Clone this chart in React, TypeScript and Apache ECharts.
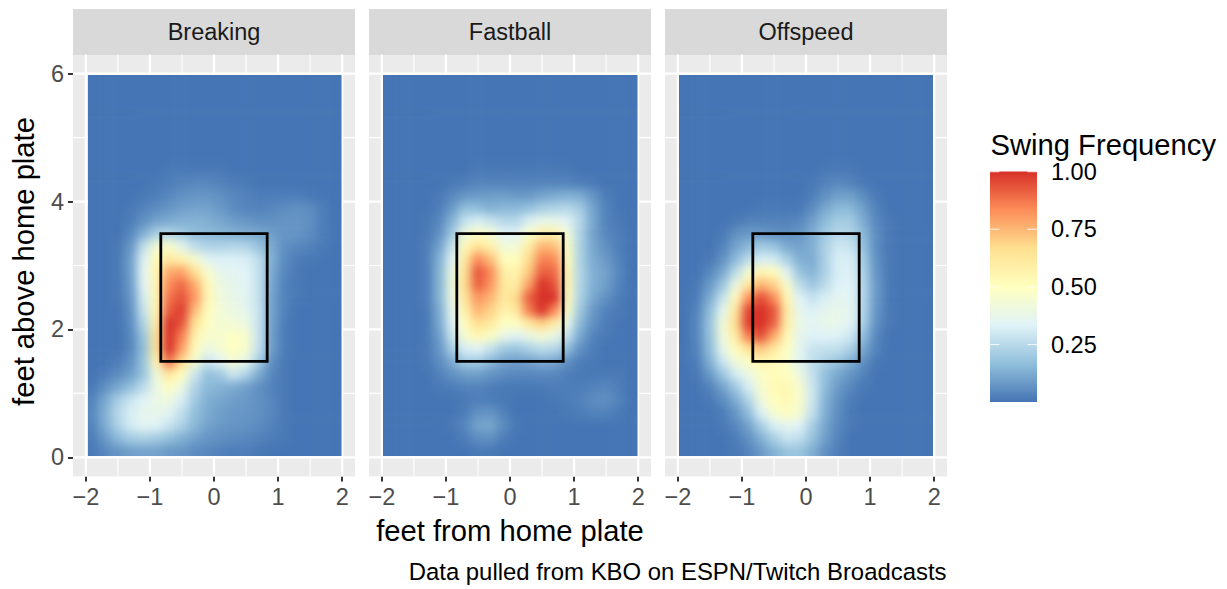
import React, { useEffect, useRef } from "react";
import * as echarts from "echarts";

const FONT = "'Liberation Sans', Arial, sans-serif";
const W = 1227;
const H = 589;

const panelNames = ["Breaking", "Fastball", "Offspeed"];
const palette = ["#4575B4", "#91BFDB", "#E0F3F8", "#FFFFBF", "#FEE090", "#FC8D59", "#D73027"];
const legendTicks = [1.0, 0.75, 0.5, 0.25];

const xCenters = [-1.9, -1.7, -1.5, -1.3, -1.1, -0.9, -0.7, -0.5, -0.3, -0.1, 0.1, 0.3, 0.5, 0.7, 0.9, 1.1, 1.3, 1.5, 1.7, 1.9];
const yCenters = [5.9, 5.7, 5.5, 5.3, 5.1, 4.9, 4.7, 4.5, 4.3, 4.1, 3.9, 3.7, 3.5, 3.3, 3.1, 2.9, 2.7, 2.5, 2.3, 2.1, 1.9, 1.7, 1.5, 1.3, 1.1, 0.9, 0.7, 0.5, 0.3, 0.1];

const xMajor = [-2, -1, 0, 1, 2];
const xMinor = [-1.5, -0.5, 0.5, 1.5];
const yMajor = [0, 2, 4, 6];
const yMinor = [1, 3, 5];

const zoneX = [-0.83, 0.83, 0.83, -0.83, -0.83];
const zoneY = [1.5, 1.5, 3.5, 3.5, 1.5];

// swing frequency in percent, rows from y = 5.9 down to y = 0.1
const breakingRows = [
  [2,2,2,2,2,2,2,2,2,2,2,2,2,2,2,2,2,2,2,2],
  [2,2,2,2,2,2,2,2,2,2,2,2,2,2,2,2,2,2,2,2],
  [2,2,2,2,2,2,2,2,2,2,2,2,2,2,2,2,2,2,2,2],
  [2,2,2,2,2,2,2,2,2,2,2,2,2,2,2,2,2,2,2,2],
  [2,2,2,2,2,2,2,2,2,2,2,2,2,2,2,2,2,2,2,2],
  [2,2,2,2,2,2,2,2,2,2,2,2,2,2,2,2,2,2,2,2],
  [2,2,2,2,2,2,2,2,2,2,2,2,2,2,2,2,2,2,2,2],
  [2,2,2,2,2,2,3,3,3,3,3,2,2,2,2,2,2,2,2,2],
  [2,2,2,2,2,3,4,5,6,6,5,4,3,2,2,2,2,2,2,2],
  [2,2,2,2,3,4,6,8,9,9,8,6,5,4,4,4,4,3,2,2],
  [2,2,2,3,5,7,9,11,12,12,10,7,5,5,6,7,8,7,4,2],
  [2,2,2,4,8,12,14,15,16,15,13,11,9,8,8,9,9,8,4,2],
  [2,2,2,6,15,24,26,22,18,17,16,15,14,13,11,9,9,7,4,2],
  [2,2,3,9,28,45,48,38,28,25,25,26,25,20,14,8,6,5,3,2],
  [2,2,3,11,34,54,62,58,47,36,34,34,33,28,15,7,4,3,2,2],
  [2,2,3,11,36,55,78,80,67,47,38,36,35,29,14,6,3,2,2,2],
  [2,2,3,10,35,55,84,90,78,54,41,38,36,29,13,5,3,2,2,2],
  [2,2,3,9,32,54,88,94,82,55,43,39,37,29,12,5,3,2,2,2],
  [2,2,2,8,29,54,92,98,74,52,44,41,38,30,12,5,2,2,2,2],
  [2,2,2,7,25,58,100,94,66,50,45,44,41,30,12,4,2,2,2,2],
  [2,2,2,6,20,63,100,86,58,47,47,50,47,30,11,4,2,2,2,2],
  [2,2,2,6,18,63,100,80,52,41,45,51,47,29,11,4,2,2,2,2],
  [2,2,4,8,20,55,88,68,46,30,35,45,38,23,8,3,2,2,2,2],
  [2,4,7,11,20,42,62,52,31,19,21,31,25,14,6,3,2,2,2,2],
  [3,8,13,19,27,40,50,40,25,17,16,14,11,8,5,3,2,2,2,2],
  [5,13,23,30,35,40,42,33,22,15,13,11,10,8,6,3,2,2,2,2],
  [6,15,26,33,38,39,36,28,19,14,11,10,9,8,6,3,2,2,2,2],
  [5,14,24,32,36,35,30,24,17,12,10,9,8,7,5,3,2,2,2,2],
  [4,10,17,22,24,22,19,15,12,9,8,7,6,5,4,3,2,2,2,2],
  [3,6,9,11,12,12,10,9,7,6,5,4,4,3,2,2,2,2,2,2],
];

const fastballRows = [
  [2,2,2,2,2,2,2,2,2,2,2,2,2,2,2,2,2,2,2,2],
  [2,2,2,2,2,2,2,2,2,2,2,2,2,2,2,2,2,2,2,2],
  [2,2,2,2,2,2,2,2,2,2,2,2,2,2,2,2,2,2,2,2],
  [2,2,2,2,2,2,2,2,2,2,2,2,2,2,2,2,2,2,2,2],
  [2,2,2,2,2,2,2,2,2,2,2,2,2,2,2,2,2,2,2,2],
  [2,2,2,2,2,2,2,2,2,2,2,2,2,2,2,2,2,2,2,2],
  [2,2,2,2,2,2,2,2,2,2,2,2,2,2,2,2,2,2,2,2],
  [2,2,2,2,2,2,2,3,3,3,3,3,3,3,3,2,2,2,2,2],
  [2,2,2,2,2,3,4,5,5,5,5,5,5,5,5,4,3,2,2,2],
  [2,2,2,2,3,6,9,10,11,11,10,10,12,14,15,14,9,4,2,2],
  [2,2,2,2,4,10,19,18,15,17,17,19,23,25,26,22,12,5,2,2],
  [2,2,2,3,6,16,29,33,30,26,26,34,39,39,35,26,13,5,3,2],
  [2,2,2,3,8,21,42,50,45,35,35,48,58,58,44,24,12,6,4,2],
  [2,2,2,4,12,29,54,66,58,44,44,60,76,74,49,24,13,8,4,2],
  [2,2,2,4,15,35,62,84,74,52,52,68,86,84,52,24,14,10,5,2],
  [2,2,2,4,16,41,66,94,84,60,57,72,92,90,54,25,15,12,6,2],
  [2,2,2,4,16,42,68,92,82,62,60,80,100,94,54,25,15,11,5,2],
  [2,2,2,4,16,41,64,82,76,62,68,92,100,100,52,24,13,8,4,2],
  [2,2,2,3,14,38,58,76,70,58,62,86,100,84,48,21,10,5,3,2],
  [2,2,2,3,13,34,52,68,62,50,50,62,70,60,39,17,8,4,2,2],
  [2,2,2,3,11,30,47,55,49,40,35,40,45,40,29,13,5,3,2,2],
  [2,2,2,3,9,23,33,35,29,22,20,24,27,26,18,8,4,2,2,2],
  [2,2,2,3,7,14,22,22,17,12,11,12,14,13,8,4,3,2,2,2],
  [2,2,2,2,5,8,11,11,9,7,6,6,6,6,4,3,3,3,3,2],
  [2,2,2,2,3,4,5,5,4,3,3,3,3,4,4,4,5,6,4,2],
  [2,2,2,2,2,2,3,4,4,3,2,2,2,3,4,5,7,8,5,2],
  [2,2,2,2,2,2,4,8,9,5,2,2,2,2,3,4,5,5,3,2],
  [2,2,2,2,2,3,6,12,13,7,3,2,2,2,2,2,2,2,2,2],
  [2,2,2,2,2,2,4,7,8,4,2,2,2,2,2,2,2,2,2,2],
  [2,2,2,2,2,2,2,3,3,2,2,2,2,2,2,2,2,2,2,2],
];

const offspeedRows = [
  [2,2,2,2,2,2,2,2,2,2,2,2,2,2,2,2,2,2,2,2],
  [2,2,2,2,2,2,2,2,2,2,2,2,2,2,2,2,2,2,2,2],
  [2,2,2,2,2,2,2,2,2,2,2,2,2,2,2,2,2,2,2,2],
  [2,2,2,2,2,2,2,2,2,2,2,2,2,2,2,2,2,2,2,2],
  [2,2,2,2,2,2,2,2,2,2,2,2,2,2,2,2,2,2,2,2],
  [2,2,2,2,2,2,2,2,2,2,2,2,2,2,2,2,2,2,2,2],
  [2,2,2,2,2,2,2,2,2,2,2,2,2,2,2,2,2,2,2,2],
  [2,2,2,2,2,2,2,2,2,2,2,3,3,3,2,2,2,2,2,2],
  [2,2,2,2,2,2,2,2,2,2,3,5,6,5,3,2,2,2,2,2],
  [2,2,2,2,2,2,2,2,2,2,4,8,11,11,7,3,2,2,2,2],
  [2,2,2,2,2,2,3,3,3,3,7,13,17,17,11,5,2,2,2,2],
  [2,2,2,2,3,5,5,5,5,6,11,18,22,22,14,6,3,2,2,2],
  [2,2,2,3,8,10,10,8,8,9,14,21,26,25,17,7,3,2,2,2],
  [2,2,2,5,12,17,22,20,14,12,15,24,31,30,19,7,3,2,2,2],
  [2,2,3,8,17,27,33,32,24,15,14,24,33,33,22,8,3,2,2,2],
  [2,2,6,13,27,45,56,52,36,20,16,24,33,34,24,9,3,2,2,2],
  [2,3,10,20,40,62,76,70,48,28,21,27,34,35,25,10,3,2,2,2],
  [2,4,14,29,52,82,95,84,56,35,29,33,37,36,25,10,3,2,2,2],
  [2,5,18,37,62,96,100,94,60,38,34,38,39,37,25,9,3,2,2,2],
  [2,6,20,43,66,98,100,92,59,40,36,39,39,36,23,8,3,2,2,2],
  [2,6,19,43,60,86,95,78,54,38,34,35,34,31,18,6,2,2,2,2],
  [2,5,18,38,52,64,72,62,50,37,30,29,28,24,13,5,2,2,2,2],
  [2,4,15,30,43,49,56,54,48,37,28,24,20,15,8,3,2,2,2,2],
  [2,3,10,20,32,40,49,53,51,42,29,19,13,9,5,2,2,2,2,2],
  [2,2,5,12,21,33,46,54,55,47,31,18,10,6,3,2,2,2,2,2],
  [2,2,3,7,14,25,42,52,54,48,31,16,8,4,2,2,2,2,2,2],
  [2,2,2,4,9,18,34,46,50,46,29,15,7,3,2,2,2,2,2,2],
  [2,2,2,3,6,12,23,33,38,35,23,13,6,3,2,2,2,2,2,2],
  [2,2,2,2,4,8,15,23,30,28,20,11,5,2,2,2,2,2,2,2],
  [2,2,2,2,3,5,10,15,20,20,15,8,4,2,2,2,2,2,2,2],
];

const panelRows = [breakingRows, fastballRows, offspeedRows];

// layout
const panelLefts = [73, 369, 665];
const panelWidth = 282;
const panelTop = 54.5;
const panelHeight = 422;
const stripTop = 9;
const X_RANGE: [number, number] = [-2.2, 2.2];
const Y_RANGE: [number, number] = [-0.3, 6.3];
const CELL = 0.2;
const BLUR = 5;
const TEXT_SMALL = 23.5;
const TEXT_LARGE = 29.2;
const TEXT_CAPTION = 23.9;
const rasterClip = (i: number) => `inset(${75 - panelTop}px ${panelLefts[i] + panelWidth - [341.5, 637.5, 933][i]}px ${panelTop + panelHeight - 456}px ${[88, 383, 679][i] - panelLefts[i]}px)`;

const grids = panelLefts.map((left) => ({
  left,
  top: panelTop,
  width: panelWidth,
  height: panelHeight,
  show: true,
  backgroundColor: "#EBEBEB",
  borderWidth: 0,
}));

const gridLineSeries = (
  i: number,
  values: number[],
  vertical: boolean,
  lineWidth: number,
) => ({
  type: "custom",
  xAxisIndex: i,
  yAxisIndex: i,
  silent: true,
  z: 1,
  data: values.map((v) => (vertical ? [v, 0] : [0, v])),
  encode: { x: 0, y: 1 },
  renderItem: (_: any, api: any) => {
    const a = vertical ? api.coord([api.value(0), Y_RANGE[0]]) : api.coord([X_RANGE[0], api.value(1)]);
    const b = vertical ? api.coord([api.value(0), Y_RANGE[1]]) : api.coord([X_RANGE[1], api.value(1)]);
    return {
      type: "line",
      shape: { x1: a[0], y1: a[1], x2: b[0], y2: b[1] },
      style: { stroke: "#FFFFFF", lineWidth },
    };
  },
});

const BAR = { x: 990, w: 47, top: 171.5, bottom: 402, y100: 171.7, y25: 344.5 };
const legendY = (v: number) => BAR.y25 - ((v - 0.25) * (BAR.y25 - BAR.y100)) / 0.75;

const backOption = () => ({
  animation: false,
  backgroundColor: "#FFFFFF",
  textStyle: { fontFamily: FONT },
  grid: grids,
  xAxis: panelLefts.map((_, i) => ({
    type: "value",
    gridIndex: i,
    min: X_RANGE[0],
    max: X_RANGE[1],
    splitLine: { show: false },
    minorSplitLine: { show: false },
    axisLine: { show: false, onZero: false },
    axisTick: { show: true, length: 5, customValues: xMajor, lineStyle: { color: "#333333", width: 2 } },
    axisLabel: {
      show: true,
      customValues: xMajor,
      margin: 8,
      fontSize: TEXT_SMALL,
      color: "#4D4D4D",
      fontFamily: FONT,
      formatter: (v: number) => String(v).replace("-", "\u2212"),
    },
    ...(i === 1
      ? {
          name: "feet from home plate",
          nameLocation: "middle",
          nameGap: 40,
          nameTextStyle: { fontSize: TEXT_LARGE, color: "#000000", fontFamily: FONT },
        }
      : {}),
  })),
  yAxis: panelLefts.map((_, i) => ({
    type: "value",
    gridIndex: i,
    min: Y_RANGE[0],
    max: Y_RANGE[1],
    splitLine: { show: false },
    minorSplitLine: { show: false },
    axisLine: { show: false, onZero: false },
    axisTick: { show: i === 0, length: 5, customValues: yMajor, lineStyle: { color: "#333333", width: 2 } },
    axisLabel: {
      show: i === 0,
      customValues: yMajor,
      margin: 9,
      fontSize: TEXT_SMALL,
      color: "#4D4D4D",
      fontFamily: FONT,
    },
  })),
  series: panelLefts.flatMap((_, i) => [
    gridLineSeries(i, xMinor, true, 1.1),
    gridLineSeries(i, yMinor, false, 1.1),
    gridLineSeries(i, xMajor, true, 2.2),
    gridLineSeries(i, yMajor, false, 2.2),
  ]),
  graphic: [
    ...panelLefts.flatMap((left, i) => [
      {
        type: "rect",
        shape: { x: left, y: stripTop, width: panelWidth, height: panelTop - stripTop + 0.5 },
        style: { fill: "#D9D9D9" },
      },
      {
        type: "text",
        x: left + panelWidth / 2,
        y: (stripTop + panelTop) / 2,
        style: {
          text: panelNames[i],
          font: `${TEXT_SMALL}px ${FONT}`,
          fill: "#1A1A1A",
          textAlign: "center",
          textVerticalAlign: "middle",
        },
      },
    ]),
    {
      type: "text",
      x: 24,
      y: 261.5,
      rotation: Math.PI / 2,
      style: {
        text: "feet above home plate",
        font: `${TEXT_LARGE}px ${FONT}`,
        fill: "#000000",
        textAlign: "center",
        textVerticalAlign: "middle",
      },
    },
    {
      type: "text",
      x: 990.5,
      y: 145,
      style: { text: "Swing Frequency", font: `${TEXT_LARGE}px ${FONT}`, fill: "#000000", textVerticalAlign: "middle" },
    },
    {
      type: "rect",
      shape: { x: BAR.x, y: BAR.top, width: BAR.w, height: BAR.bottom - BAR.top },
      style: {
        fill: new echarts.graphic.LinearGradient(
          0,
          1,
          0,
          0,
          palette.map((color, k) => ({ offset: k / (palette.length - 1), color })),
        ),
      },
    },
    ...legendTicks.flatMap((v) => [
      {
        type: "line",
        shape: { x1: BAR.x, y1: legendY(v), x2: BAR.x + 9.5, y2: legendY(v) },
        style: { stroke: "rgba(255,255,255,0.8)", lineWidth: 1.1 },
      },
      {
        type: "line",
        shape: { x1: BAR.x + BAR.w - 9.5, y1: legendY(v), x2: BAR.x + BAR.w, y2: legendY(v) },
        style: { stroke: "rgba(255,255,255,0.8)", lineWidth: 1.1 },
      },
      {
        type: "text",
        x: 1051,
        y: legendY(v),
        style: { text: v.toFixed(2), font: `${TEXT_SMALL}px ${FONT}`, fill: "#000000", textVerticalAlign: "middle" },
      },
    ]),
    {
      type: "text",
      x: 946.5,
      y: 571,
      style: {
        text: "Data pulled from KBO on ESPN/Twitch Broadcasts",
        font: `${TEXT_CAPTION}px ${FONT}`,
        fill: "#000000",
        textAlign: "right",
        textVerticalAlign: "middle",
      },
    },
  ],
});

const heatOption = (rows: number[][]) => ({
  animation: false,
  grid: { left: 0, right: 0, top: 0, bottom: 0 },
  xAxis: { type: "value", min: X_RANGE[0], max: X_RANGE[1], show: false },
  yAxis: { type: "value", min: Y_RANGE[0], max: Y_RANGE[1], show: false },
  visualMap: {
    show: false,
    type: "continuous",
    dimension: 2,
    min: 2,
    max: 100,
    inRange: { color: palette },
  },
  series: [
    {
      type: "custom",
      silent: true,
      clip: false,
      data: rows.flatMap((row, r) => row.map((v, c) => [xCenters[c], yCenters[r], v])),
      encode: { x: 0, y: 1 },
      renderItem: (_: any, api: any) => {
        const x = api.value(0);
        const y = api.value(1);
        // cells on the raster's rim run out to the panel edge so the soft edge stays inside the clip
        const x0 = x === xCenters[0] ? X_RANGE[0] : x - CELL / 2;
        const x1 = x === xCenters[xCenters.length - 1] ? X_RANGE[1] : x + CELL / 2;
        const y1 = y === yCenters[0] ? Y_RANGE[1] : y + CELL / 2;
        const y0 = y === yCenters[yCenters.length - 1] ? Y_RANGE[0] : y - CELL / 2;
        const a = api.coord([x0, y1]);
        const b = api.coord([x1, y0]);
        return {
          type: "rect",
          shape: { x: a[0] - 0.3, y: a[1] - 0.3, width: b[0] - a[0] + 0.6, height: b[1] - a[1] + 0.6 },
          style: { fill: api.visual("color") },
        };
      },
    },
  ],
});

const zoneOption = () => ({
  animation: false,
  grid: grids.map((g) => ({ ...g, show: false })),
  xAxis: panelLefts.map((_, i) => ({ type: "value", gridIndex: i, min: X_RANGE[0], max: X_RANGE[1], show: false })),
  yAxis: panelLefts.map((_, i) => ({ type: "value", gridIndex: i, min: Y_RANGE[0], max: Y_RANGE[1], show: false })),
  series: panelLefts.map((_, i) => ({
    type: "line",
    xAxisIndex: i,
    yAxisIndex: i,
    silent: true,
    showSymbol: false,
    symbol: "none",
    data: zoneX.map((x, k) => [x, zoneY[k]]),
    lineStyle: { color: "#000000", width: 2.8, cap: "square", join: "miter" },
  })),
});

export default function App() {
  const backRef = useRef<HTMLDivElement>(null);
  const zoneRef = useRef<HTMLDivElement>(null);
  const heatRefs = [useRef<HTMLDivElement>(null), useRef<HTMLDivElement>(null), useRef<HTMLDivElement>(null)];

  useEffect(() => {
    const back = echarts.init(backRef.current!, null, { renderer: "svg" });
    back.setOption(backOption() as any);
    const heats = heatRefs.map((ref, i) => {
      const chart = echarts.init(ref.current!, null, { renderer: "svg" });
      chart.setOption(heatOption(panelRows[i]) as any);
      return chart;
    });
    const zone = echarts.init(zoneRef.current!, null, { renderer: "svg" });
    zone.setOption(zoneOption() as any);
    return () => {
      back.dispose();
      heats.forEach((c) => c.dispose());
      zone.dispose();
    };
  }, []);

  const layer: React.CSSProperties = { position: "absolute", left: 0, top: 0, width: W, height: H };
  return (
    <div style={{ position: "fixed", left: 0, top: 0, width: W, height: H, background: "#FFFFFF", overflow: "hidden" }}>
      <div ref={backRef} style={layer} />
      {panelLefts.map((left, i) => (
        <div
          key={panelNames[i]}
          style={{
            position: "absolute",
            left,
            top: panelTop,
            width: panelWidth,
            height: panelHeight,
            clipPath: rasterClip(i),
          }}
        >
          <div
            ref={heatRefs[i]}
            style={{ width: panelWidth, height: panelHeight, filter: `blur(${BLUR}px)` }}
          />
        </div>
      ))}
      <div ref={zoneRef} style={{ ...layer, pointerEvents: "none" }} />
    </div>
  );
}
